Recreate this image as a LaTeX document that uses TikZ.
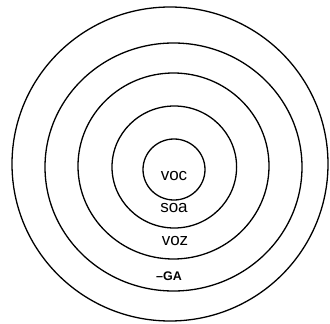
\documentclass[tikz,border=0pt]{standalone}
\usepackage{fontspec}
\setmainfont{Liberation Sans}
\begin{document}
\begin{tikzpicture}[x=1pt,y=-1pt,
  ring/.style={draw=black,line width=1.3pt},
  lbl/.style={inner sep=0pt,font=\fontsize{17}{18}\selectfont},
  caplbl/.style={inner sep=0pt,font=\bfseries\fontsize{12.5}{13}\selectfont}]
\useasboundingbox (0,0) rectangle (330,324);
\draw[ring] (170,164) ellipse [x radius=158, y radius=157];
\draw[ring] (173.5,167) ellipse [x radius=128.5, y radius=124];
\draw[ring] (173.5,166) ellipse [x radius=95.5, y radius=93];
\draw[ring] (174.3,167) ellipse [x radius=62.3, y radius=61];
\draw[ring] (174,169.5) ellipse [x radius=31, y radius=30.5];
\node[lbl] (voc) at (174,176) {voc};
\node[lbl] (soa) at (174,208) {soa};
\node[lbl] (voz) at (175,241) {voz};
\node[caplbl] (ga) at (169,276) {–GA};
\end{tikzpicture}
\end{document}
